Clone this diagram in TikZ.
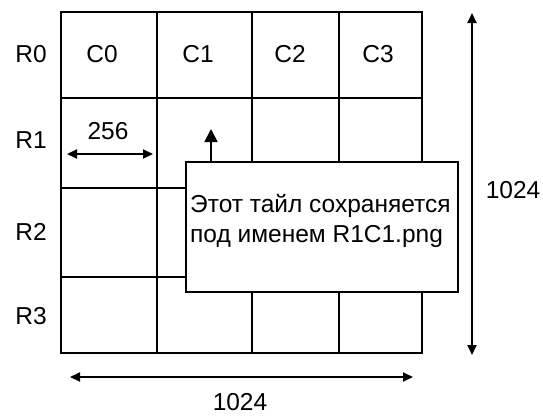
\documentclass[tikz,border=0pt]{standalone}
\usepackage{fontspec}
\setmainfont{Liberation Sans}
\usetikzlibrary{arrows.meta}
\begin{document}
\begin{tikzpicture}[x=1pt,y=-1pt,
  gridline/.style={line width=1.8pt,line cap=rect},
  lbl/.style={inner sep=0pt,font=\fontsize{24.5}{30}\selectfont},
  dimarrow/.style={line width=1.8pt,{Triangle[length=10pt,width=9pt]}-{Triangle[length=10pt,width=9pt]}},
  callout/.style={draw,fill=white,line width=1.8pt,minimum width=272pt,minimum height=130pt,inner sep=0pt},
  pointer/.style={line width=1.8pt,-{Triangle[length=13pt,width=13pt]}}]
\useasboundingbox (0,0) rectangle (543,415);
\fill[white] (0,0) rectangle (543,415);
% grid
\foreach \x in {61,157,252,339,422} \draw[gridline] (\x,12) -- (\x,353);
\foreach \y in {12,98,188,277,353} \draw[gridline] (61,\y) -- (422,\y);
% row labels
\node[lbl] (r0) at (31,54) {R0};
\node[lbl] (r1) at (31,140) {R1};
\node[lbl] (r2) at (31,232) {R2};
\node[lbl] (r3) at (31,316) {R3};
% column labels
\node[lbl] (c0) at (102,54) {C0};
\node[lbl] (c1) at (198,54) {C1};
\node[lbl] (c2) at (290,54) {C2};
\node[lbl] (c3) at (378,54) {C3};
% 256 dimension
\coordinate (a1) at (67,154);
\coordinate (a2) at (153,154);
\draw[dimarrow] (a1) -- (a2);
\node[lbl] (w256) at (108,131) {256};
% vertical 1024
\coordinate (v1) at (472,13);
\coordinate (v2) at (472,355);
\draw[dimarrow] (v1) -- (v2);
\node[lbl] (h1024) at (513,190) {1024};
% horizontal 1024
\coordinate (b1) at (70,377);
\coordinate (b2) at (413,377);
\draw[dimarrow] (b1) -- (b2);
\node[lbl] (w1024) at (240,402) {1024};
% callout
\node[callout] (box) at (322,227) {};
\node[lbl,anchor=base west] (t1) at (190,212) {Этот тайл сохраняется};
\node[lbl,anchor=base west] (t2) at (190,242) {под именем R1C1.png};
\coordinate (tip) at (211,129);
\draw[pointer] (box.north -| tip) -- (tip);
\end{tikzpicture}
\end{document}
